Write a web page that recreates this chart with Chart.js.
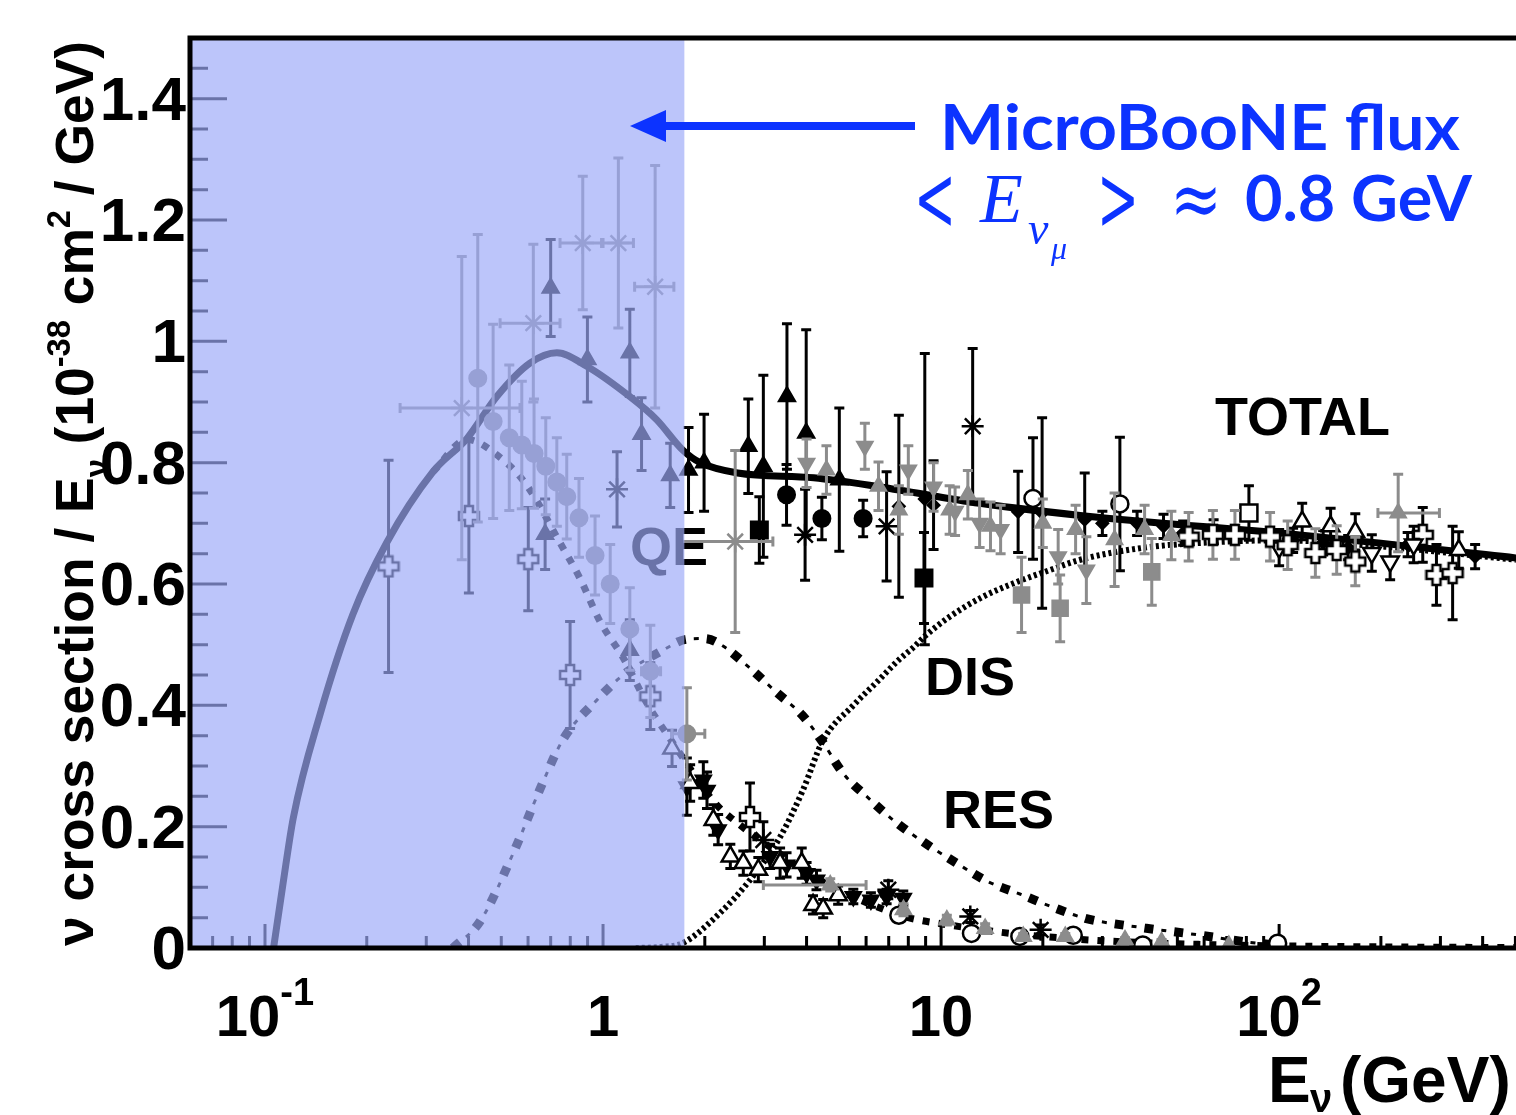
<!DOCTYPE html>
<html>
<head>
<meta charset="utf-8">
<script src="https://cdn.jsdelivr.net/npm/chart.js@4.4.0/dist/chart.umd.min.js"></script>
<style>
  html, body { margin: 0; padding: 0; background: #fff; overflow: hidden; }
  canvas { display: block; }
</style>
</head>
<body>
<canvas id="xsec" width="1516" height="1115"></canvas>
<script>
// ---- axes ----
const xMin = 0.06, xMax = 502, yMin = 0, yMax = 1.5;
const fluxMaxE = 1.74;   // right edge of the shaded MicroBooNE flux band

const xMajorTicks = [0.1, 1, 10, 100];
const xTickBase = ['10', '1', '10', '10'];
const xTickExp = ['-1', '', '', '2'];
const yTickVals = [0, 0.2, 0.4, 0.6, 0.8, 1, 1.2, 1.4];
const yTickLabels = ['0', '0.2', '0.4', '0.6', '0.8', '1', '1.2', '1.4'];

// ---- model curves (E in GeV, sigma/E in 1e-38 cm2/GeV) ----
const totalE  = [0.106, 0.113, 0.1213, 0.1455, 0.182, 0.229, 0.314, 0.396, 0.485, 0.608, 0.73, 0.895, 1.2, 1.44, 1.72, 1.94, 2.5, 4.2, 6.6, 13, 29, 115, 502];
const totalXs = [0, 0.105, 0.215, 0.385, 0.55, 0.668, 0.785, 0.84, 0.909, 0.964, 0.981, 0.959, 0.909, 0.871, 0.821, 0.80, 0.783, 0.775, 0.76, 0.733, 0.71, 0.681, 0.643];

const qeE  = [0.314, 0.396, 0.495, 0.596, 0.746, 0.855, 0.98, 1.146, 1.35, 1.6, 1.74, 2.0, 2.22, 2.45, 2.72, 3.34, 4, 5, 6, 8, 10, 15, 20, 30, 50, 100, 200, 502];
const qeXs = [0.785, 0.838, 0.809, 0.762, 0.668, 0.609, 0.538, 0.479, 0.403, 0.34, 0.31, 0.26, 0.23, 0.21, 0.19, 0.155, 0.125, 0.095, 0.075, 0.05, 0.04, 0.026, 0.019, 0.012, 0.007, 0.0035, 0.0018, 0.0007];

const resE  = [0.36, 0.433, 0.542, 0.651, 0.762, 0.96, 1.146, 1.505, 1.77, 2.0, 2.23, 2.7, 3.25, 3.88, 4.48, 5.13, 6.1, 7.4, 8.96, 11.1, 13.8, 17.1, 21.7, 26.7, 40, 57, 80, 110];
const resXs = [0, 0.044, 0.156, 0.262, 0.344, 0.409, 0.45, 0.491, 0.509, 0.51, 0.50, 0.463, 0.422, 0.384, 0.338, 0.288, 0.247, 0.206, 0.173, 0.14, 0.109, 0.089, 0.066, 0.049, 0.033, 0.022, 0.01, 0.002];

const disE  = [1.25, 1.5, 1.72, 2.22, 2.72, 3.34, 3.9, 4.48, 5.5, 6.5, 7.5, 8.3, 9.0, 10.6, 13.3, 16.7, 21, 25.8, 40, 60, 100, 200, 502];
const disXs = [0, 0.002, 0.008, 0.058, 0.112, 0.183, 0.26, 0.343, 0.40, 0.44, 0.475, 0.496, 0.515, 0.546, 0.579, 0.603, 0.623, 0.64, 0.66, 0.668, 0.672, 0.662, 0.64];

// ---- measurements ----
// black filled triangles
const btE   = [0.70, 0.674, 0.899, 1.20, 1.20, 1.30, 1.58, 1.79, 1.99, 2.69, 2.98, 3.5, 3.99, 5.0];
const btY   = [1.088, 0.682, 0.970, 0.981, 0.491, 0.847, 0.779, 0.788, 0.80, 0.827, 0.794, 0.909, 0.849, 0.772];
const btErr = [0.08, 0.058, 0.07, 0.072, 0.05, 0.06, 0.053, 0.07, 0.08, 0.078, 0.15, 0.12, 0.17, 0.118];
// black filled circles
const bcE = [3.49, 4.44, 5.88];
const bcY = [0.747, 0.708, 0.708];
const bcErr = [0.05, 0.035, 0.03];
// black squares
const bsE = [2.9, 8.9];
const bsY = [0.689, 0.61];
const bsErr = [0.055, 0.075];
// black asterisks
const bstE   = [1.10, 3.96, 6.9, 12.4, 2.98, 6.98, 12.2, 19.7];
const bstY   = [0.756, 0.681, 0.695, 0.86, 0.178, 0.096, 0.052, 0.03];
const bstErr = [0.062, 0.075, 0.09, 0.128, 0.03, 0.015, 0.01, 0.008];
// small black diamonds
const bdE   = [7.5, 8.95, 9.5, 16.9, 19.9, 26.6, 30, 38, 45.5, 52, 64, 110, 135, 160, 240, 380];
const bdY   = [0.728, 0.74, 0.73, 0.719, 0.717, 0.706, 0.70, 0.70, 0.695, 0.684, 0.686, 0.672, 0.668, 0.66, 0.665, 0.645];
const bdErr = [0.15, 0.24, 0.073, 0.067, 0.157, 0.077, 0.02, 0.02, 0.02, 0.02, 0.02, 0.02, 0.02, 0.02, 0.02, 0.02];
// black filled down triangles
const bvE   = [1.77, 1.98, 2.03, 2.19, 3.12, 3.49, 4.0, 4.28, 5.5, 6.2, 6.9, 7.73];
const bvY   = [0.266, 0.277, 0.26, 0.195, 0.151, 0.137, 0.123, 0.112, 0.085, 0.079, 0.085, 0.082];
const bvErr = [0.047, 0.03, 0.03, 0.025, 0.02, 0.02, 0.018, 0.016, 0.012, 0.012, 0.012, 0.012];
// open circles
const ocE   = [18.7, 33.8, 7.5, 12.3, 17.1, 24.6, 39.5, 99];
const ocY   = [0.741, 0.732, 0.054, 0.024, 0.019, 0.021, 0.005, 0.008];
const ocErr = [0.1, 0.11, 0.01, 0.008, 0.006, 0.006, 0.004, 0.004];
// open crosses, black bars
const oxE   = [0.232, 0.401, 0.601, 0.799, 1.38, 2.72, 266, 292, 326];
const oxY   = [0.629, 0.712, 0.641, 0.45, 0.415, 0.216, 0.681, 0.615, 0.618];
const oxErr = [0.175, 0.127, 0.085, 0.088, 0.055, 0.056, 0.045, 0.05, 0.077];
// open crosses, grey bars
const ogE   = [54, 63.7, 74, 94, 106, 128, 148, 168];
const ogY   = [0.678, 0.681, 0.681, 0.678, 0.664, 0.651, 0.656, 0.637];
const ogErr = [0.04, 0.04, 0.04, 0.04, 0.04, 0.04, 0.04, 0.04];
// grey filled circles
const gcE   = [0.426, 0.473, 0.528, 0.575, 0.625, 0.677, 0.73, 0.781, 0.849, 0.947, 1.05, 1.20, 1.38, 1.77];
const gcY   = [0.939, 0.868, 0.841, 0.829, 0.815, 0.794, 0.768, 0.744, 0.709, 0.647, 0.60, 0.526, 0.456, 0.353];
const gcErr = [0.237, 0.16, 0.12, 0.105, 0.09, 0.08, 0.073, 0.07, 0.065, 0.065, 0.065, 0.068, 0.076, 0.076];
const gcELo = [0, 0, 0, 0, 0, 0, 0, 0, 0, 0, 0, 0, 1.30, 1.60];
const gcEHi = [0, 0, 0, 0, 0, 0, 0, 0, 0, 0, 0, 0, 1.48, 2.00];
// grey asterisks
const gsE   = [0.382, 0.622, 0.871, 1.11, 1.426, 2.46];
const gsY   = [0.890, 1.03, 1.162, 1.162, 1.09, 0.67];
const gsErr = [0.25, 0.13, 0.11, 0.14, 0.2, 0.15];
const gsELo = [0.251, 0.496, 0.746, 0.99, 1.24, 1.69];
const gsEHi = [0.568, 0.746, 1.0, 1.23, 1.62, 3.18];
// grey filled triangles
const gtE   = [4.58, 6.53, 7.5, 10.6, 12, 14, 20, 25, 32.6, 40, 48, 225, 4.7, 7.74, 10.4, 13.5, 17.5, 23.3, 35, 44.9, 71];
const gtY   = [0.788, 0.761, 0.722, 0.722, 0.747, 0.695, 0.70, 0.69, 0.673, 0.69, 0.68, 0.717, 0.104, 0.063, 0.046, 0.032, 0.019, 0.019, 0.013, 0.01, 0.004];
const gtErr = [0.04, 0.04, 0.04, 0.04, 0.04, 0.04, 0.04, 0.04, 0.077, 0.04, 0.04, 0.064, 0.01, 0.01, 0.008, 0.008, 0.005, 0.005, 0.004, 0.004, 0.003];
const gtELo = [0, 0, 0, 0, 0, 0, 0, 0, 0, 0, 0, 196, 2.98, 0, 0, 0, 0, 0, 0, 0, 0];
const gtEHi = [0, 0, 0, 0, 0, 0, 0, 0, 0, 0, 0, 298, 6.0, 0, 0, 0, 0, 0, 0, 0, 0];
// grey filled down triangles
const gdE   = [4.0, 5.95, 8.0, 9.5, 11, 13, 15, 22.2, 26.9];
const gdY   = [0.799, 0.827, 0.788, 0.76, 0.72, 0.70, 0.69, 0.645, 0.623];
const gdErr = [0.04, 0.038, 0.04, 0.04, 0.04, 0.04, 0.04, 0.045, 0.055];
// grey squares
const gqE = [17.3, 22.5, 42];
const gqY = [0.582, 0.56, 0.62];
const gqErr = [0.062, 0.055, 0.055];
// open triangles
const otE   = [1.6, 1.81, 2.12, 2.38, 2.6, 2.88, 3.34, 3.87, 4.18, 4.48, 4.96, 117, 142, 168, 340];
const otY   = [0.329, 0.272, 0.211, 0.151, 0.14, 0.129, 0.14, 0.14, 0.071, 0.065, 0.087, 0.703, 0.695, 0.686, 0.656];
const otErr = [0.03, 0.03, 0.025, 0.02, 0.02, 0.02, 0.025, 0.025, 0.015, 0.015, 0.015, 0.03, 0.03, 0.03, 0.03];
// open down triangles
const odE = [100, 188, 213, 250];
const odY = [0.66, 0.651, 0.637, 0.665];
const odErr = [0.03, 0.03, 0.03, 0.03];
// open square
const osE = [81.4];
const osY = [0.717];
const osErr = [0.045];

const GREY = '#8c8c8c';
const BLUE = '#0c33ff';
const SANS = '"Liberation Sans", Arial, sans-serif';

function plusMarker(stroke) {
  const s = 24, c = document.createElement('canvas');
  c.width = c.height = s;
  const g = c.getContext('2d'), m = s / 2, a = 4, e = 10;
  g.beginPath();
  [[-a,-e],[a,-e],[a,-a],[e,-a],[e,a],[a,a],[a,e],[-a,e],[-a,a],[-e,a],[-e,-a],[-a,-a]]
    .forEach(([dx, dy], i) => i ? g.lineTo(m + dx, m + dy) : g.moveTo(m + dx, m + dy));
  g.closePath();
  g.fillStyle = '#fff'; g.fill();
  g.lineWidth = 2.5; g.strokeStyle = stroke; g.stroke();
  return c;
}

function curve(E, Y, width, dash) {
  return {
    data: E.map((e, i) => ({ x: e, y: Y[i] })),
    showLine: true, borderColor: '#000', borderWidth: width, borderDash: dash,
    borderCapStyle: 'butt', pointRadius: 0, fill: false,
    cubicInterpolationMode: 'monotone', order: 5
  };
}

function points(E, Y, err, style, o) {
  return Object.assign({
    data: E.map((e, i) => ({ x: e, y: Y[i] })),
    errY: err, errColor: '#000',
    pointStyle: style, pointRadius: 9, borderWidth: 2,
    backgroundColor: '#000', borderColor: '#000', order: 0
  }, o || {});
}

const datasets = [
  curve(totalE, totalXs, 7, []),
  curve(qeE, qeXs, 7, [7, 9]),
  curve(resE, resXs, 9, [9, 21]),
  curve(resE, resXs, 3, [0, 17, 5, 8]),
  curve(disE, disXs, 6, [3, 3]),
  points(gcE, gcY, gcErr, 'circle', { radius: 8.5, backgroundColor: GREY, borderColor: GREY, errColor: GREY, errXLo: gcELo, errXHi: gcEHi }),
  points(gsE, gsY, gsErr, 'star', { radius: 11, borderWidth: 2.5, borderColor: GREY, errColor: GREY, errXLo: gsELo, errXHi: gsEHi }),
  points(gtE, gtY, gtErr, 'triangle', { radius: 9, backgroundColor: GREY, borderColor: GREY, errColor: GREY, errXLo: gtELo, errXHi: gtEHi }),
  points(gdE, gdY, gdErr, 'triangle', { radius: 9, rotation: 180, backgroundColor: GREY, borderColor: GREY, errColor: GREY }),
  points(gqE, gqY, gqErr, 'rect', { radius: 11, backgroundColor: GREY, borderColor: GREY, errColor: GREY }),
  points(ogE, ogY, ogErr, plusMarker('#000'), { errColor: GREY }),
  points(otE, otY, otErr, 'triangle', { radius: 10, backgroundColor: '#fff', borderWidth: 2.5 }),
  points(odE, odY, odErr, 'triangle', { radius: 10, rotation: 180, backgroundColor: '#fff', borderWidth: 2.5 }),
  points(osE, osY, osErr, 'rect', { radius: 12, backgroundColor: '#fff', borderWidth: 2.5 }),
  points(ocE, ocY, ocErr, 'circle', { radius: 8.5, backgroundColor: '#fff', borderWidth: 2.5 }),
  points(oxE, oxY, oxErr, plusMarker('#000')),
  points(bdE, bdY, bdErr, 'rectRot', { radius: 6 }),
  points(bvE, bvY, bvErr, 'triangle', { radius: 9, rotation: 180 }),
  points(bstE, bstY, bstErr, 'star', { radius: 11, borderWidth: 2.5 }),
  points(bsE, bsY, bsErr, 'rect', { radius: 12 }),
  points(bcE, bcY, bcErr, 'circle', { radius: 8.5 }),
  points(btE, btY, btErr, 'triangle', { radius: 9.5 })
];
datasets.forEach(d => { if (d.radius) d.pointRadius = d.radius; });

function rich(ctx, segs, x, y, draw) {
  let cx = x;
  segs.forEach(s => {
    ctx.font = s.f;
    if (draw) ctx.fillText(s.t, cx, y + (s.dy || 0));
    cx += ctx.measureText(s.t).width;
  });
  return cx - x;
}

function fitText(ctx, text, font, x, y, width) {
  ctx.save();
  ctx.font = font;
  const w = ctx.measureText(text).width;
  ctx.translate(x, y);
  ctx.scale(width / w, 1);
  ctx.fillText(text, 0, 0);
  ctx.restore();
}

const framePlugin = {
  id: 'rootFrame',
  beforeDatasetsDraw(chart) {
    const { ctx, chartArea: a, scales: { x, y } } = chart;
    ctx.save();
    ctx.strokeStyle = '#000';
    ctx.lineWidth = 3;
    ctx.beginPath();
    for (let i = 0; i <= 30; i++) {
      const v = i * 0.05;
      const py = y.getPixelForValue(v);
      ctx.moveTo(a.left, py);
      ctx.lineTo(a.left + (i % 4 === 0 ? 37 : 18), py);
    }
    for (let d = 0.01; d < xMax; d *= 10) {
      for (let k = 1; k < 10; k++) {
        const v = d * k;
        if (v <= xMin || v >= xMax) continue;
        const px = x.getPixelForValue(v);
        ctx.moveTo(px, a.bottom);
        ctx.lineTo(px, a.bottom - (k === 1 ? 24 : 12));
      }
    }
    ctx.stroke();
    ctx.restore();
  },
  beforeDatasetDraw(chart, args) {
    const d = chart.data.datasets[args.index];
    if (!d.errY) return;
    const { ctx, chartArea: a, scales: { x, y } } = chart;
    ctx.save();
    ctx.beginPath();
    ctx.rect(a.left, a.top, a.right - a.left, a.bottom - a.top);
    ctx.clip();
    ctx.strokeStyle = d.errColor;
    ctx.lineWidth = 3;
    ctx.beginPath();
    d.data.forEach((p, i) => {
      const px = x.getPixelForValue(p.x), py = y.getPixelForValue(p.y);
      const e = d.errY[i];
      if (e) {
        const t = y.getPixelForValue(p.y + e), b = y.getPixelForValue(p.y - e);
        ctx.moveTo(px, t); ctx.lineTo(px, b);
        ctx.moveTo(px - 5, t); ctx.lineTo(px + 5, t);
        ctx.moveTo(px - 5, b); ctx.lineTo(px + 5, b);
      }
      if (d.errXLo && d.errXLo[i]) {
        const l = x.getPixelForValue(d.errXLo[i]), r = x.getPixelForValue(d.errXHi[i]);
        ctx.moveTo(l, py); ctx.lineTo(r, py);
        ctx.moveTo(l, py - 5); ctx.lineTo(l, py + 5);
        ctx.moveTo(r, py - 5); ctx.lineTo(r, py + 5);
      }
    });
    ctx.stroke();
    ctx.restore();
  },
  afterDatasetsDraw(chart) {
    const { ctx, chartArea: a, scales: { x, y } } = chart;
    ctx.save();
    ctx.fillStyle = '#000';
    ctx.textBaseline = 'alphabetic';
    ctx.font = `bold 54px ${SANS}`;
    ctx.fillText('QE', 630, 565);

    // shaded flux band
    const xb = x.getPixelForValue(fluxMaxE);
    ctx.fillStyle = 'rgba(156,169,247,0.68)';
    ctx.fillRect(a.left, a.top, xb - a.left, a.bottom - a.top);

    // frame
    ctx.strokeStyle = '#000';
    ctx.lineWidth = 5;
    ctx.beginPath();
    ctx.moveTo(a.right, a.top); ctx.lineTo(a.left, a.top);
    ctx.lineTo(a.left, a.bottom); ctx.lineTo(a.right, a.bottom);
    ctx.stroke();

    // y tick labels
    ctx.fillStyle = '#000';
    ctx.font = `bold 62px ${SANS}`;
    ctx.textAlign = 'right';
    ctx.textBaseline = 'middle';
    yTickVals.forEach((v, i) => ctx.fillText(yTickLabels[i], 186, y.getPixelForValue(v) + 4));

    // x tick labels
    ctx.textAlign = 'left';
    ctx.textBaseline = 'alphabetic';
    xMajorTicks.forEach((v, i) => {
      const px = x.getPixelForValue(v);
      ctx.font = `bold 58px ${SANS}`;
      const wb = ctx.measureText(xTickBase[i]).width;
      ctx.font = `bold 38px ${SANS}`;
      const we = xTickExp[i] ? ctx.measureText(xTickExp[i]).width : 0;
      const left = px - (wb + we) / 2;
      ctx.font = `bold 58px ${SANS}`;
      ctx.fillText(xTickBase[i], left, 1036);
      if (xTickExp[i]) {
        ctx.font = `bold 38px ${SANS}`;
        ctx.fillText(xTickExp[i], left + wb, 1005);
      }
    });

    // x title
    ctx.font = `bold 64px ${SANS}`;
    ctx.fillText('E', 1268, 1102);
    ctx.font = `bold 40px ${SANS}`;
    ctx.fillText('ν', 1310, 1112);
    ctx.font = `bold 64px ${SANS}`;
    ctx.fillText('(GeV)', 1340, 1102);

    // y title
    const F = 54;
    const big = `bold ${F}px ${SANS}`, small = `bold ${Math.round(F * 0.62)}px ${SANS}`;
    const segs = [
      { t: 'ν cross section / E', f: big },
      { t: 'ν', f: small, dy: F * 0.28 },
      { t: ' (10', f: big },
      { t: '-38', f: small, dy: -F * 0.42 },
      { t: ' cm', f: big },
      { t: '2', f: small, dy: -F * 0.42 },
      { t: ' / GeV)', f: big }
    ];
    ctx.save();
    ctx.translate(93, 946);
    ctx.rotate(-Math.PI / 2);
    const tw = rich(ctx, segs, 0, 0, false);
    ctx.scale(905 / tw, 1);
    rich(ctx, segs, 0, 0, true);
    ctx.restore();

    // curve labels
    ctx.font = `bold 54px ${SANS}`;
    ctx.fillText('TOTAL', 1215, 435);
    ctx.fillText('DIS', 925, 695);
    ctx.fillText('RES', 943, 828);

    // MicroBooNE annotation
    ctx.fillStyle = BLUE;
    ctx.strokeStyle = BLUE;
    ctx.lineWidth = 8;
    ctx.beginPath();
    ctx.moveTo(915, 126); ctx.lineTo(660, 126);
    ctx.stroke();
    ctx.beginPath();
    ctx.moveTo(630, 126); ctx.lineTo(666, 110); ctx.lineTo(666, 142);
    ctx.closePath();
    ctx.fill();

    fitText(ctx, 'MicroBooNE flux', 'bold 64px Lato, "Open Sans", sans-serif', 940, 150, 520);
    ctx.font = '92px "DejaVu Serif", serif';
    fitText(ctx, '<', '92px "DejaVu Serif", serif', 914, 230, 42);
    fitText(ctx, '>', '92px "DejaVu Serif", serif', 1097, 230, 42);
    fitText(ctx, '≈', '80px "DejaVu Serif", serif', 1170, 226, 52);
    ctx.font = 'italic 70px "Liberation Serif", serif';
    ctx.fillText('E', 980, 222);
    ctx.font = 'italic 46px "Liberation Serif", serif';
    ctx.fillText('ν', 1028, 244);
    ctx.font = 'italic 32px "Liberation Serif", serif';
    ctx.fillText('μ', 1051, 259);
    fitText(ctx, '0.8 GeV', 'bold 64px Lato, "Open Sans", sans-serif', 1245, 221, 227);
    ctx.restore();
  }
};

new Chart(document.getElementById('xsec'), {
  type: 'scatter',
  data: { datasets },
  options: {
    responsive: false,
    animation: false,
    devicePixelRatio: 1,
    layout: { autoPadding: false, padding: { left: 190, top: 38, right: 0, bottom: 167 } },
    plugins: { legend: { display: false }, tooltip: { enabled: false } },
    scales: {
      x: { type: 'logarithmic', min: xMin, max: xMax, display: false },
      y: { type: 'linear', min: yMin, max: yMax, display: false }
    }
  },
  plugins: [framePlugin]
});
</script>
</body>
</html>
